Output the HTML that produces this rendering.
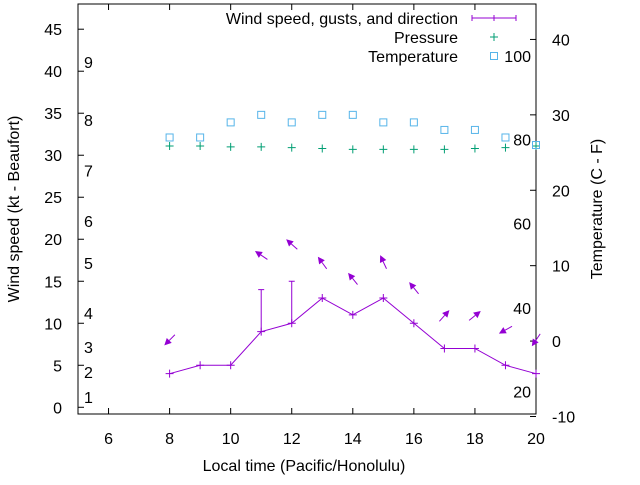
<!DOCTYPE html>
<html><head><meta charset="utf-8"><style>
body{margin:0;background:#fff}
svg{font-family:"Liberation Sans",sans-serif;font-size:16px}
</style></head><body>
<svg id="chart" width="640" height="480" viewBox="0 0 640 480" xmlns="http://www.w3.org/2000/svg">
<g id="grid"></g>
</svg>
<script>
const hours=[8,9,10,11,12,13,14,15,16,17,18,19,20];
const windSpeed=[4,5,5,9,10,13,11,13,10,7,7,5,4];
const gusts=[null,null,null,14,15,null,null,null,null,null,null,null,null];
const windDir=[45,null,null,124,132,144,141,155,141,222,231,61,34];
const arrowY=[8.0,null,null,18.1,19.4,17.2,15.3,17.3,14.2,10.9,10.9,9.2,8.0];
const pressure=[31.1,31.1,31.0,31.0,30.9,30.8,30.7,30.7,30.7,30.7,30.8,30.9,31.1];
const temperature=[27,27,29,30,29,30,30,29,29,28,28,27,26];
const xTicks=[6,8,10,12,14,16,18,20];
const yTicks=[0,5,10,15,20,25,30,35,40,45];
const y2Ticks=[-10,0,10,20,30,40];
const beaufortLabels=["1","2","3","4","5","6","7","8","9"];
const beaufortY=[1.2,4.2,7.2,11.2,17.2,22.2,28.2,34.2,41.1];
const fahrLabels=["20","40","60","80","100"];
const fahrC=[-6.7,4.4,15.6,26.7,37.8];

const L=78,R=536,T=4,B=414;
const sx=v=>L+(v-5)/(20-5)*(R-L);
const sy=v=>B-(v+0.8)/(48+0.8)*(B-T);
const sy2=v=>B-(v+9.67)/(44.7+9.67)*(B-T);
const svg=document.getElementById('chart');
const NS='http://www.w3.org/2000/svg';
function mk(tag,attrs,parent){const e=document.createElementNS(NS,tag);for(const k in attrs)e.setAttribute(k,attrs[k]);(parent||svg).appendChild(e);return e;}
const PUR='#9400d3',GRN='#009e73',BLU='#56b4e9';

// frame
const frame=mk('rect',{x:L,y:T,width:R-L,height:B-T,fill:'none',stroke:'#000','stroke-width':1});


xTicks.forEach(t=>{
  const x=sx(t);
  const l=mk('path',{d:`M${x},${B}v-6M${x},${T}v6`,stroke:'#000'});
  
  
  const tx=mk('text',{x:x,y:B+30,'text-anchor':'middle'});tx.textContent=t;
  
  
});
yTicks.forEach(t=>{
  const y=sy(t);
  const l=mk('path',{d:`M${L},${y}h6`,stroke:'#000'});
  
  
  const tx=mk('text',{x:62,y:y+6,'text-anchor':'end'});tx.textContent=t;
  
  
});
y2Ticks.forEach(t=>{
  const y=sy2(t);
  const l=mk('path',{d:`M${R},${y}h-6`,stroke:'#000'});
  
  
  const tx=mk('text',{x:552,y:y+6});tx.textContent=t;
  
  
});
beaufortLabels.forEach((s,i)=>{
  const tx=mk('text',{x:84,y:sy(beaufortY[i])+6});tx.textContent=s;
  
  
});
fahrLabels.forEach((s,i)=>{
  const tx=mk('text',{x:531,y:sy2(fahrC[i])+6,'text-anchor':'end'});tx.textContent=s;
  
  
});
// axis titles
let t1=mk('text',{x:304,y:471,'text-anchor':'middle'});t1.textContent='Local time (Pacific/Honolulu)';

let t2=mk('text',{transform:'translate(19,209) rotate(-90)','text-anchor':'middle'});t2.textContent='Wind speed (kt - Beaufort)';

let t3=mk('text',{transform:'translate(602,209) rotate(-90)','text-anchor':'middle'});t3.textContent='Temperature (C - F)';


// wind line
const pts=hours.map((h,i)=>sx(h)+','+sy(windSpeed[i])).join(' ');
const wl=mk('polyline',{points:pts,fill:'none',stroke:PUR,'stroke-width':1});

hours.forEach((h,i)=>{
  const x=sx(h),y=sy(windSpeed[i]);
  const p=mk('path',{d:`M${x-4},${y}h8M${x},${y-4}v8`,stroke:PUR});
  
  if(gusts[i]!=null){
    const g=sy(gusts[i]);
    const gb=mk('path',{d:`M${x},${y}V${g}M${x-3},${g}h6`,stroke:PUR});
    
  }
  if(windDir[i]!=null){
    const cx=x,cy=sy(arrowY[i]),Ln=15,a=windDir[i]*Math.PI/180;
    const dx=-Math.sin(a)*Ln,dy=Math.cos(a)*Ln;
    const x0=cx-dx/2,y0=cy-dy/2,x1=cx+dx/2,y1=cy+dy/2;
    const ux=dx/Ln,uy=dy/Ln;
    const bx=x1-ux*7,by=y1-uy*7;
    const ar=mk('g',{});
    
    mk('line',{x1:x0,y1:y0,x2:bx,y2:by,stroke:PUR},ar);
    mk('polygon',{points:`${x1},${y1} ${bx-uy*3.5},${by+ux*3.5} ${bx+uy*3.5},${by-ux*3.5}`,fill:PUR},ar);
  }
  const pp=mk('path',{d:`M${x-4},${sy(pressure[i])}h8M${x},${sy(pressure[i])-4}v8`,stroke:GRN});
  
  const tp=sy2(temperature[i]);
  const tr=mk('rect',{x:x-3.5,y:tp-3.5,width:7,height:7,fill:'none',stroke:BLU});
  
});

// legend
const lg=mk('g',{});

[['Wind speed, gusts, and direction',18],['Pressure',37],['Temperature',56]].forEach(([s,y])=>{
  const tx=mk('text',{x:458,y:y+6,'text-anchor':'end'},lg);tx.textContent=s;
  
});
mk('path',{d:'M472,18h44M472,15v6M494,15v6M516,15v6',stroke:PUR},lg);
mk('path',{d:'M490,37h8M494,33v8',stroke:GRN},lg);
mk('rect',{x:490.5,y:52.5,width:7,height:7,fill:'none',stroke:BLU},lg);
</script>
</body></html>
